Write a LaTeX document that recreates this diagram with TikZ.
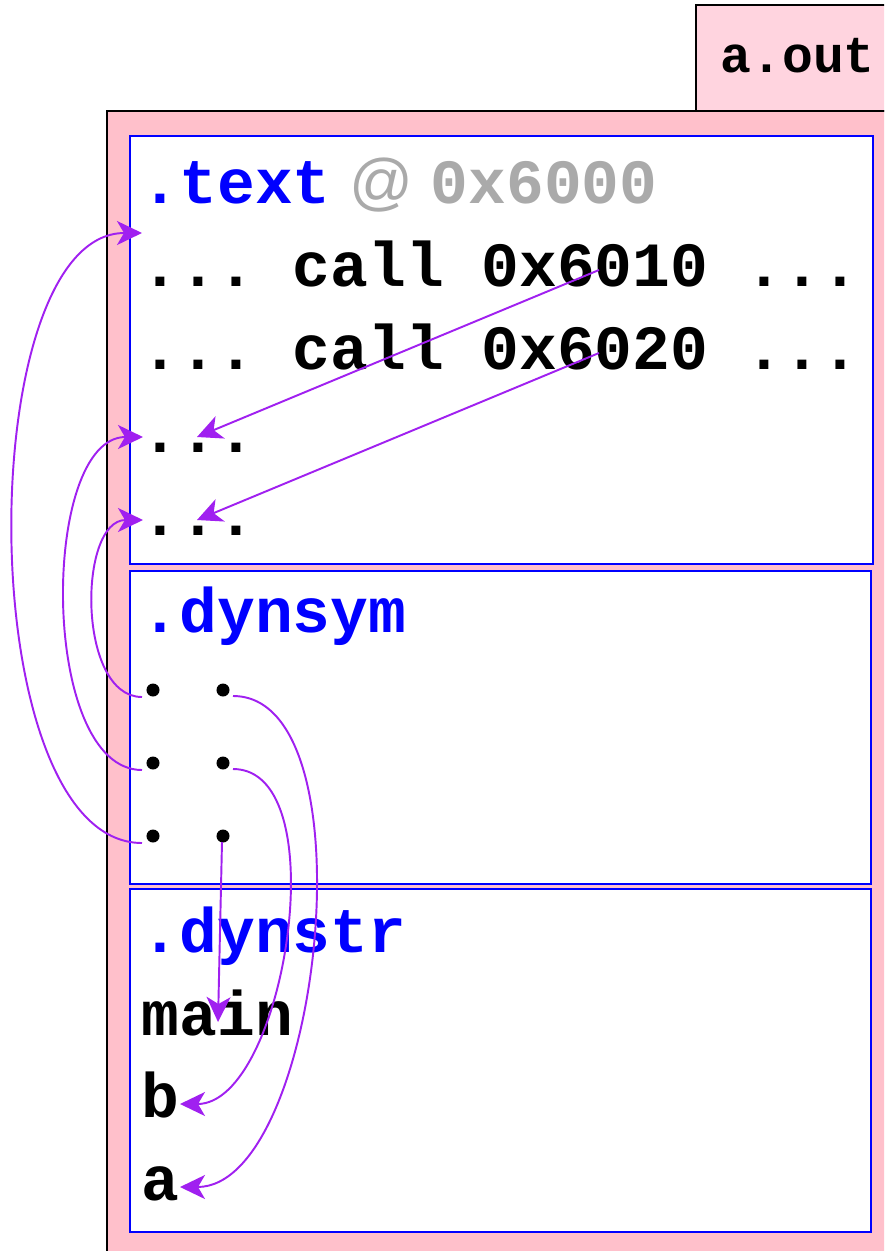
\documentclass[tikz,border=0pt]{standalone}
\usepackage{fontspec}
\setmonofont{Liberation Mono}
\setsansfont{Liberation Sans}
\usetikzlibrary{arrows.meta}

\definecolor{secblue}{RGB}{0,0,255}
\definecolor{addrgray}{RGB}{170,170,170}
\definecolor{reloc}{RGB}{160,32,240}
\definecolor{filepink}{RGB}{255,192,203}
\definecolor{tabpink}{RGB}{255,212,223}

\tikzset{
    line/.style={anchor=base west, inner sep=0pt, font=\ttfamily\bfseries\fontsize{17.9}{20}\selectfont},
    sect/.style={draw=secblue, line width=0.6pt, fill=white},
    ref/.style={draw=reloc, line width=0.55pt, -{Stealth[length=0.25cm, width=0.24cm, inset=0.07cm]}},
    sym/.style={circle, fill=black, inner sep=0pt, minimum size=0.13cm},
}

\begin{document}
\begin{tikzpicture}[x=0.01cm, y=-0.01cm]
    \useasboundingbox (0,0) rectangle (884,1251);
    \clip (0,0) rectangle (884,1251);

    % Define the left edge of every text line
    \def\x{141}

    % Draw the file tab and the file body
    \draw[fill=tabpink, line width=0.6pt] (696,5) rectangle (920,111);
    \node[line, font=\ttfamily\bfseries\fontsize{14.6}{18}\selectfont] (aout) at (720,72) {a.out};
    \draw[fill=filepink, line width=0.6pt] (107,111) rectangle (920,1290);

    % Draw the three sections
    \draw[sect] (130,136) rectangle (873,564);  % .text
    \draw[sect] (130,571) rectangle (871,884);  % .dynsym
    \draw[sect] (130,889) rectangle (871,1232); % .dynstr

    % .text contents
    \node[line, text=secblue] (ttext) at (\x,203) {.text};
    \node[line, text=addrgray] (taddr) at (ttext.base east) {\sffamily\mdseries\ @ \ttfamily\bfseries 0x6000};
    \node[line] (call1) at (\x,286) {... call 0x6010 ...};
    \node[line] (call2) at (\x,369) {... call 0x6020 ...};
    \node[line] (dots1) at (\x,452) {...};
    \node[line] (dots2) at (\x,535) {...};

    % .dynsym contents, two fields per symbol
    \node[line, text=secblue] (tdynsym) at (\x,632) {.dynsym};
    \foreach \n/\y in {1/690, 2/763, 3/836} {
        \node[sym] (sl\n) at (153,\y) {};
        \node[sym] (sr\n) at (223,\y) {};
    }

    % .dynstr contents
    \node[line, text=secblue] (tdynstr) at (\x,952) {.dynstr};
    \node[line] (smain) at (\x,1035) {main};
    \node[line] (sb) at (\x,1117) {b};
    \node[line] (sa) at (\x,1200) {a};

    % Calls into the stubs
    \draw[ref] ([shift={(458,-16)}]call1.base west) -- ([shift={(56,-15)}]dots1.base west);
    \draw[ref] ([shift={(458,-16)}]call2.base west) -- ([shift={(56,-15)}]dots2.base west);

    % Symbol values point back into .text
    \draw[ref] ([shift={(-11,7)}]sl1.center) to[out=180, in=180, looseness=0.94] ([shift={(2,-15)}]dots2.base west);
    \draw[ref] ([shift={(-11,7)}]sl2.center) to[out=180, in=180, looseness=0.79] ([shift={(2,-15)}]dots1.base west);
    \draw[ref] ([shift={(-11,7)}]sl3.center) to[out=180, in=180, looseness=0.72] ([shift={(1,-53)}]call1.base west);

    % Symbol names point into .dynstr
    \draw[ref] ([shift={(10,6)}]sr1.center) to[out=0, in=0, looseness=0.73] ([shift={(39,-13)}]sa.base west);
    \draw[ref] ([shift={(10,6)}]sr2.center) to[out=0, in=0, looseness=0.79] ([shift={(39,-13)}]sb.base west);
    \draw[ref] ([shift={(-1,6)}]sr3.center) -- ([shift={(77,-13)}]smain.base west);

\end{tikzpicture}
\end{document}
